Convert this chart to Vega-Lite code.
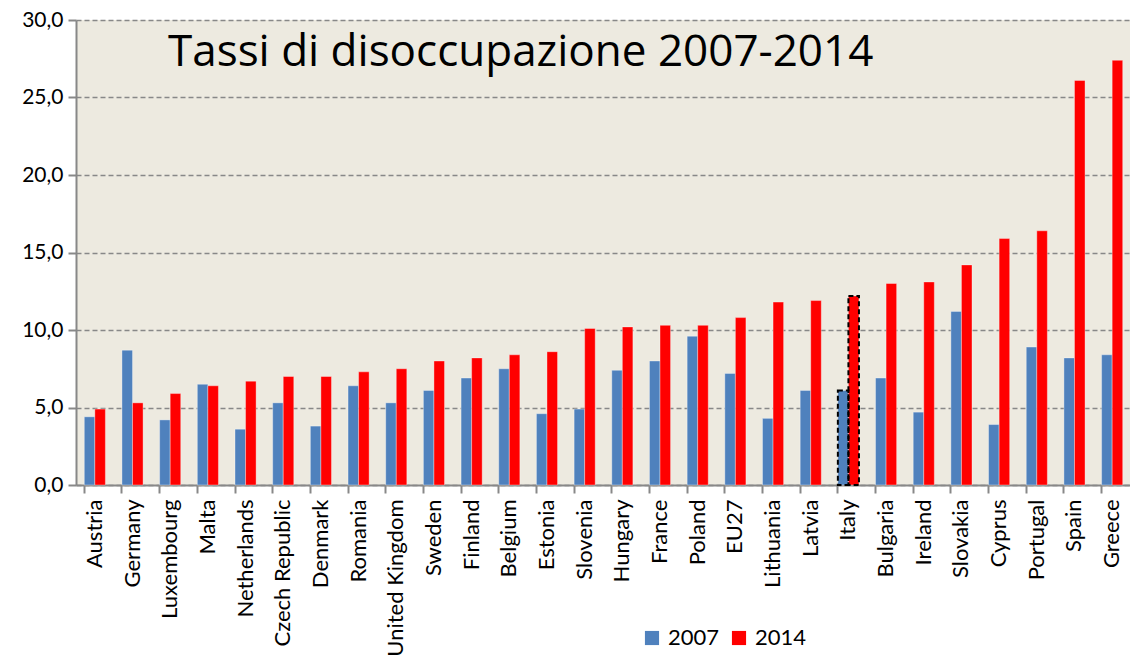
{
  "$schema": "https://vega.github.io/schema/vega-lite/v6.json",
  "autosize": "none",
  "width": 1055,
  "height": 465,
  "padding": {"left": 76, "top": 20, "right": 0, "bottom": 182},
  "background": "white",
  "title": {
    "text": "Tassi di disoccupazione 2007-2014",
    "anchor": "start",
    "frame": "group",
    "orient": "top",
    "dx": 92,
    "dy": 105,
    "fontSize": 44,
    "font": "Open Sans",
    "fontWeight": "normal",
    "color": "black",
    "baseline": "alphabetic"
  },
  "data": {
    "values": [
      {"country": "Austria", "year": "2007", "rate": 4.4},
      {"country": "Austria", "year": "2014", "rate": 4.9},
      {"country": "Germany", "year": "2007", "rate": 8.7},
      {"country": "Germany", "year": "2014", "rate": 5.3},
      {"country": "Luxembourg", "year": "2007", "rate": 4.2},
      {"country": "Luxembourg", "year": "2014", "rate": 5.9},
      {"country": "Malta", "year": "2007", "rate": 6.5},
      {"country": "Malta", "year": "2014", "rate": 6.4},
      {"country": "Netherlands", "year": "2007", "rate": 3.6},
      {"country": "Netherlands", "year": "2014", "rate": 6.7},
      {"country": "Czech Republic", "year": "2007", "rate": 5.3},
      {"country": "Czech Republic", "year": "2014", "rate": 7.0},
      {"country": "Denmark", "year": "2007", "rate": 3.8},
      {"country": "Denmark", "year": "2014", "rate": 7.0},
      {"country": "Romania", "year": "2007", "rate": 6.4},
      {"country": "Romania", "year": "2014", "rate": 7.3},
      {"country": "United Kingdom", "year": "2007", "rate": 5.3},
      {"country": "United Kingdom", "year": "2014", "rate": 7.5},
      {"country": "Sweden", "year": "2007", "rate": 6.1},
      {"country": "Sweden", "year": "2014", "rate": 8.0},
      {"country": "Finland", "year": "2007", "rate": 6.9},
      {"country": "Finland", "year": "2014", "rate": 8.2},
      {"country": "Belgium", "year": "2007", "rate": 7.5},
      {"country": "Belgium", "year": "2014", "rate": 8.4},
      {"country": "Estonia", "year": "2007", "rate": 4.6},
      {"country": "Estonia", "year": "2014", "rate": 8.6},
      {"country": "Slovenia", "year": "2007", "rate": 4.9},
      {"country": "Slovenia", "year": "2014", "rate": 10.1},
      {"country": "Hungary", "year": "2007", "rate": 7.4},
      {"country": "Hungary", "year": "2014", "rate": 10.2},
      {"country": "France", "year": "2007", "rate": 8.0},
      {"country": "France", "year": "2014", "rate": 10.3},
      {"country": "Poland", "year": "2007", "rate": 9.6},
      {"country": "Poland", "year": "2014", "rate": 10.3},
      {"country": "EU27", "year": "2007", "rate": 7.2},
      {"country": "EU27", "year": "2014", "rate": 10.8},
      {"country": "Lithuania", "year": "2007", "rate": 4.3},
      {"country": "Lithuania", "year": "2014", "rate": 11.8},
      {"country": "Latvia", "year": "2007", "rate": 6.1},
      {"country": "Latvia", "year": "2014", "rate": 11.9},
      {"country": "Italy", "year": "2007", "rate": 6.1},
      {"country": "Italy", "year": "2014", "rate": 12.2},
      {"country": "Bulgaria", "year": "2007", "rate": 6.9},
      {"country": "Bulgaria", "year": "2014", "rate": 13.0},
      {"country": "Ireland", "year": "2007", "rate": 4.7},
      {"country": "Ireland", "year": "2014", "rate": 13.1},
      {"country": "Slovakia", "year": "2007", "rate": 11.2},
      {"country": "Slovakia", "year": "2014", "rate": 14.2},
      {"country": "Cyprus", "year": "2007", "rate": 3.9},
      {"country": "Cyprus", "year": "2014", "rate": 15.9},
      {"country": "Portugal", "year": "2007", "rate": 8.9},
      {"country": "Portugal", "year": "2014", "rate": 16.4},
      {"country": "Spain", "year": "2007", "rate": 8.2},
      {"country": "Spain", "year": "2014", "rate": 26.1},
      {"country": "Greece", "year": "2007", "rate": 8.4},
      {"country": "Greece", "year": "2014", "rate": 27.4}
    ]
  },
  "encoding": {
    "x": {
      "field": "country",
      "type": "nominal",
      "sort": null,
      "title": null,
      "scale": {"paddingInner": 0.44, "paddingOuter": 0.22},
      "axis": {
        "labelAngle": -90,
        "labelAlign": "right",
        "labelBaseline": "middle",
        "labelFontSize": 22,
        "labelFont": "Lato",
        "labelColor": "black",
        "labelPadding": 6,
        "labelLimit": 300,
        "bandPosition": 0,
        "tickColor": "#888888",
        "tickWidth": 2,
        "tickSize": 8,
        "domainColor": "#888888",
        "domainWidth": 2,
        "grid": false
      }
    },
    "xOffset": {"field": "year", "type": "nominal", "scale": {"paddingInner": 0}},
    "y": {
      "field": "rate",
      "type": "quantitative",
      "title": null,
      "scale": {"domain": [0, 30], "nice": false},
      "axis": {
        "values": [0, 5, 10, 15, 20, 25, 30],
        "labelExpr": "replace(format(datum.value, '.1f'), '.', ',')",
        "labelFontSize": 21,
        "labelFont": "Lato",
        "labelColor": "black",
        "labelPadding": 5,
        "tickColor": "#888888",
        "tickWidth": 2,
        "tickSize": 8,
        "domainColor": "#888888",
        "domainWidth": 2,
        "grid": true,
        "gridColor": "#888888",
        "gridDash": [5, 3],
        "gridWidth": 1.5
      }
    }
  },
  "layer": [
    {
      "mark": {"type": "bar", "strokeWidth": 1, "strokeOpacity": 0.35, "stroke": "white"},
      "encoding": {
        "color": {
          "field": "year",
          "type": "nominal",
          "scale": {"domain": ["2007", "2014"], "range": ["#4F81BD", "#FF0000"]},
          "legend": {
            "title": null,
            "orient": "none",
            "direction": "horizontal",
            "legendX": 565,
            "legendY": 607,
            "symbolType": "square",
            "symbolSize": 200,
            "symbolStrokeWidth": 0,
            "labelFontSize": 22,
            "labelFont": "Lato",
            "labelColor": "black",
            "columnPadding": 8,
            "labelOffset": 5
          }
        }
      }
    },
    {
      "transform": [{"filter": "datum.country === 'Italy'"}],
      "mark": {"type": "bar", "fillOpacity": 0, "stroke": "black", "strokeWidth": 2, "strokeDash": [5, 3]}
    }
  ],
  "config": {
    "view": {"fill": "#EDEAE0", "stroke": null}
  }
}
